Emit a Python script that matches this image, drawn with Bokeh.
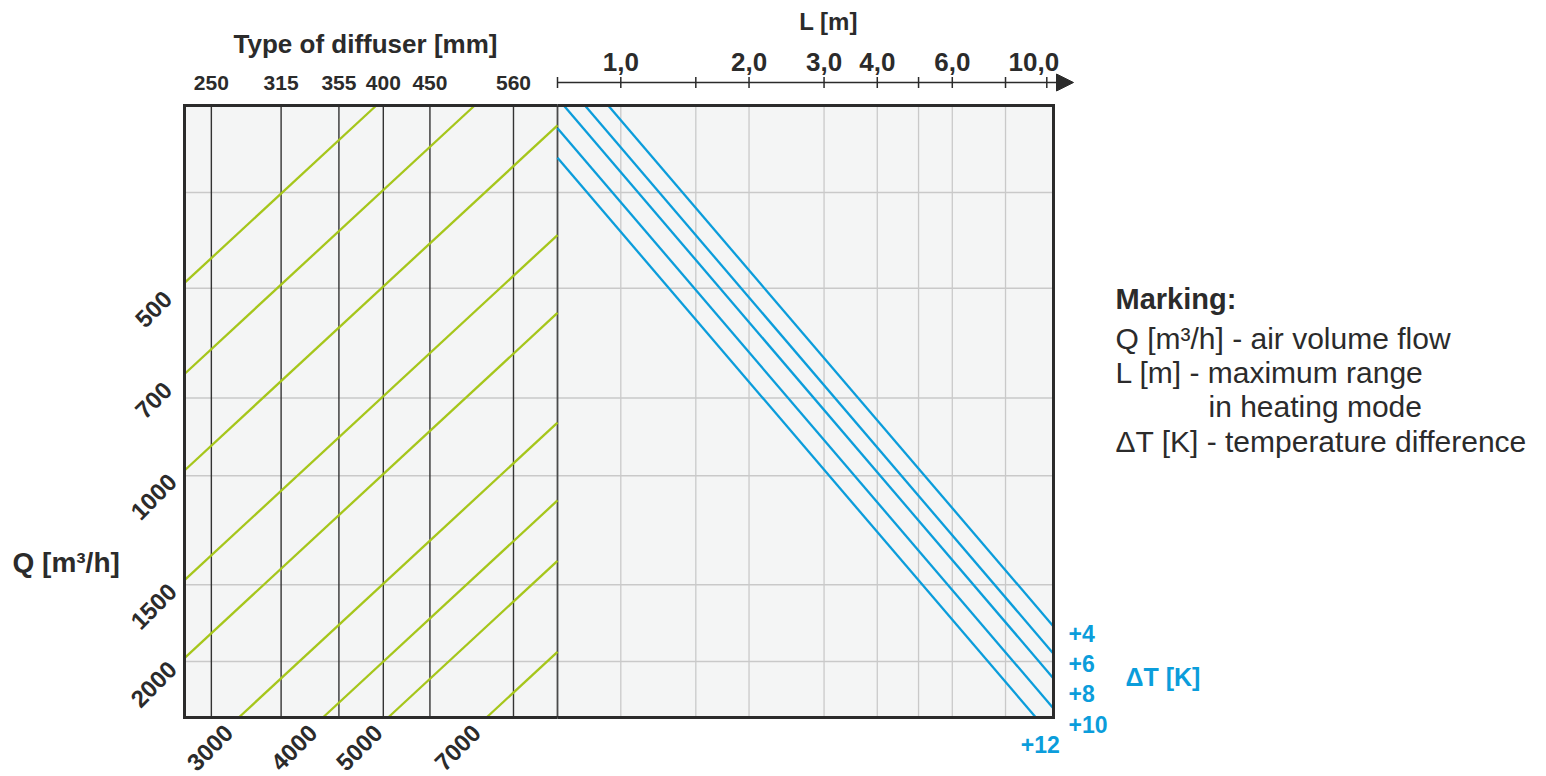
import math
from bokeh.plotting import figure
from bokeh.models import Range1d, LogScale, Arrow, NormalHead
from bokeh.core.properties import value
from bokeh.embed import file_html
from bokeh.resources import INLINE

# ---------------- data ----------------
diffuser_types = ["250", "315", "355", "400", "450", "560"]
diffuser_scale = [0.072, 0.259, 0.414, 0.533, 0.658, 0.882]   # position on diffuser scale (0 = left edge, 1 = divider)

q_values = [500, 700, 1000, 1500, 2000, 3000, 4000, 5000, 7000]  # Q [m3/h] lines
q_guides = [358, 510, 765, 1020, 1525, 2025]                     # horizontal guide lines on the Q scale

l_ticks = [1.0, 1.5, 2.0, 3.0, 4.0, 5.0, 6.0, 8.0, 10.0]
l_tick_labels = ["1,0", "", "2,0", "3,0", "4,0", "", "6,0", "", "10,0"]
l_guides = [1.0, 1.5, 2.0, 3.0, 4.0, 5.0, 6.0, 8.0]

dt_labels = ["+4", "+6", "+8", "+10", "+12"]
dt_q_at_1m = [274, 303, 332, 371, 414]   # reading of each dT line on the Q scale at L = 1 m

q_drop_per_panel = 0.554   # decades of the Q scale lost across the diffuser panel (green lines)
dt_slope = 0.80            # decades of Q scale per decade of L (blue lines)

marking_title = "Marking:"
marking_lines = ["Q [m³/h] - air volume flow", "L [m] - maximum range", "in heating mode",
                 "ΔT [K] - temperature difference"]

# ---------------- layout (page pixels) ----------------
W, H = 1546, 776
BOX_L, BOX_R, BOX_T, BOX_B, DIV = 184, 1053, 105, 717, 557
XL1, PXL = 620.3, 426.0
YQ1000, PXQ = 470.0, 623.0

def u_at(px): return (px - BOX_L) / (DIV - BOX_L)
def l_at(px): return 10 ** ((px - XL1) / PXL)
def q_at(py): return 10 ** (3 + (py - YQ1000) / PXQ)

L_MIN, L_MAX = l_at(DIV), l_at(BOX_R)
Q_TOP, Q_BOT = q_at(BOX_T), q_at(BOX_B)

DARK = "#2b2b2b"
GREEN = "#a6c61b"
BLUE = "#0b9ddb"
BG = "#f4f5f5"
GRID = "#c9c9c9"
FONT = value("Liberation Sans")

p = figure(width=W, height=H, x_range=Range1d(u_at(0), u_at(W)),
           y_range=Range1d(q_at(H), q_at(0)), y_axis_type="log",
           x_axis_location=None, y_axis_location=None, tools="",
           output_backend="svg", toolbar_location=None, min_border=0)
p.title_location = None
p.extra_x_ranges = {"L": Range1d(l_at(0), l_at(W))}
p.extra_x_scales = {"L": LogScale()}
p.grid.grid_line_color = None
p.outline_line_color = None
p.background_fill_color = "white"
p.border_fill_color = "white"

# panel backgrounds
p.quad(left=[0], right=[1], top=[Q_TOP], bottom=[Q_BOT], fill_color=BG, line_color=None)
p.quad(left=[L_MIN], right=[L_MAX], top=[Q_TOP], bottom=[Q_BOT], fill_color=BG, line_color=None,
       x_range_name="L")

# horizontal guides
n = len(q_guides)
p.segment(x0=[0] * n, x1=[1] * n, y0=q_guides, y1=q_guides, line_color=GRID, line_width=1.5)
p.segment(x0=[L_MIN] * n, x1=[L_MAX] * n, y0=q_guides, y1=q_guides, line_color=GRID, line_width=1.5,
          x_range_name="L")
# L guides
m = len(l_guides)
p.segment(x0=l_guides, x1=l_guides, y0=[Q_TOP] * m, y1=[Q_BOT] * m, line_color=GRID, line_width=1.3,
          x_range_name="L")
# diffuser lines
k = len(diffuser_scale)
p.segment(x0=diffuser_scale, x1=diffuser_scale, y0=[Q_TOP] * k, y1=[Q_BOT] * k, line_color="#333333",
          line_width=1.4)
# divider
p.segment(x0=[1], x1=[1], y0=[Q_TOP], y1=[Q_BOT], line_color="#4a4a4a", line_width=1.8)

# green Q lines
gx, gy, left_q, left_u, bot_q, bot_u = [], [], [], [], [], []
for q in q_values:
    lq = math.log10(q)
    u0 = max(0.0, (lq - math.log10(Q_BOT)) / q_drop_per_panel)
    u1 = min(1.0, (lq - math.log10(Q_TOP)) / q_drop_per_panel)
    gx.append([u0, u1])
    gy.append([10 ** (lq - q_drop_per_panel * u0), 10 ** (lq - q_drop_per_panel * u1)])
    if u0 == 0.0:
        left_q.append(q); left_u.append(u0)
    else:
        bot_q.append(q); bot_u.append(u0)
p.multi_line(gx, gy, line_color=GREEN, line_width=2.3)

# blue dT lines
bx, by, end_l, end_q = [], [], [], []
for q1 in dt_q_at_1m:
    a = math.log10(q1)
    g0 = max(math.log10(L_MIN), (math.log10(Q_TOP) - a) / dt_slope)
    g1 = min(math.log10(L_MAX), (math.log10(Q_BOT) - a) / dt_slope)
    bx.append([10 ** g0, 10 ** g1])
    by.append([10 ** (a + dt_slope * g0), 10 ** (a + dt_slope * g1)])
    end_l.append(10 ** g1); end_q.append(10 ** (a + dt_slope * g1))
p.multi_line(bx, by, line_color=BLUE, line_width=2.3, x_range_name="L")

# box outline
p.line(x=[1, 0, 0, 1], y=[Q_TOP, Q_TOP, Q_BOT, Q_BOT], line_color=DARK, line_width=3, line_join="miter")
p.line(x=[L_MIN, L_MAX, L_MAX, L_MIN], y=[Q_TOP, Q_TOP, Q_BOT, Q_BOT], line_color=DARK, line_width=3,
       line_join="miter", x_range_name="L")

# L axis (above)
q_ax = q_at(82)
p.add_layout(Arrow(x_start=L_MIN, y_start=q_ax, x_end=l_at(1073), y_end=q_ax, x_range_name="L",
                   line_color=DARK, line_width=1.5,
                   end=NormalHead(size=17, fill_color=DARK, line_color=DARK)))
p.scatter(x=[L_MIN] + l_ticks, y=[q_ax] * (len(l_ticks) + 1), marker="dash", angle=math.pi / 2,
          size=11, line_color=DARK, line_width=1.5, x_range_name="L")
lab_x = [l for l, s in zip(l_ticks, l_tick_labels) if s]
lab_t = [s for s in l_tick_labels if s]
lab_off = [-13 if s == "10,0" else 0 for s in lab_t]
p.text(x=lab_x, y=[q_at(61)] * len(lab_x), text=lab_t, x_offset=lab_off, text_align="center",
       text_baseline="middle", text_font=FONT, text_font_style="bold", text_font_size="26px",
       text_color=DARK, x_range_name="L")
p.text(x=[l_at(828)], y=[q_at(21)], text=["L [m]"], text_align="center", text_baseline="middle",
       text_font=FONT, text_font_style="bold", text_font_size="24px", text_color=DARK, x_range_name="L")

# diffuser labels
p.text(x=diffuser_scale, y=[q_at(82)] * k, text=diffuser_types, text_align="center", text_baseline="middle",
       text_font=FONT, text_font_style="bold", text_font_size="21px", text_color=DARK)
p.text(x=[u_at(365)], y=[q_at(43)], text=["Type of diffuser [mm]"], text_align="center",
       text_baseline="middle", text_font=FONT, text_font_style="bold", text_font_size="26px", text_color=DARK)

# Q labels
p.text(x=left_u, y=left_q, text=[str(q) for q in left_q], angle=math.pi / 4, x_offset=-31, y_offset=26,
       text_align="center", text_baseline="middle", text_font=FONT, text_font_style="bold",
       text_font_size="24px", text_color=DARK)
p.text(x=bot_u, y=[Q_BOT] * len(bot_u), text=[str(q) for q in bot_q], angle=math.pi / 4, x_offset=-29,
       y_offset=30, text_align="center", text_baseline="middle", text_font=FONT, text_font_style="bold",
       text_font_size="24px", text_color=DARK)
p.text(x=[u_at(12)], y=[q_at(562)], text=["Q [m³/h]"], text_align="left", text_baseline="middle",
       text_font=FONT, text_font_style="bold", text_font_size="28px", text_color=DARK)

# dT labels
dt_dx = [15, 15, 15, 15, -15]
dt_dy = [7, 10, 15, 16, 27]
p.text(x=end_l, y=end_q, text=dt_labels, x_offset=dt_dx, y_offset=dt_dy, text_align="left",
       text_baseline="middle", text_font=FONT, text_font_style="bold", text_font_size="23px",
       text_color=BLUE, x_range_name="L")
p.text(x=[l_at(1125)], y=[q_at(676)], text=["ΔT [K]"], text_align="left", text_baseline="middle",
       text_font=FONT, text_font_style="bold", text_font_size="25px", text_color=BLUE, x_range_name="L")

# marking legend
p.text(x=[l_at(1115)], y=[q_at(298)], text=[marking_title], text_align="left", text_baseline="middle",
       text_font=FONT, text_font_style="bold", text_font_size="29px", text_color=DARK, x_range_name="L")
leg_px = [1115, 1115, 1208, 1115]
leg_py = [338, 372, 406, 441]
p.text(x=[l_at(v) for v in leg_px], y=[q_at(v) for v in leg_py], text=marking_lines, text_align="left",
       text_baseline="middle", text_font=FONT, text_font_size="30px", text_color=DARK, x_range_name="L")

open("out.html", "w").write(file_html(p, INLINE))
